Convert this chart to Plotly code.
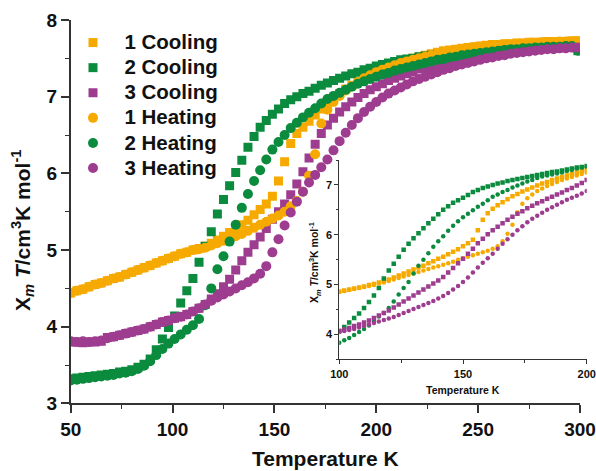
import plotly.graph_objects as go

# ---------------- main plot data ----------------
T_main = [50, 53, 56, 59, 62, 65, 68, 71, 74, 77, 80, 83, 86, 89, 92, 95, 98, 101, 104, 107,
          110, 113, 116, 119, 122, 125, 128, 131, 134, 137, 140, 143, 146, 149, 152, 155, 158, 161, 164, 167,
          170, 173, 176, 179, 182, 185, 188, 191, 194, 197, 200, 203, 206, 209, 212, 215, 218, 221, 224, 227,
          230, 233, 236, 239, 242, 245, 248, 251, 254, 257, 260, 263, 266, 269, 272, 275, 278, 281, 284, 287,
          290, 293, 296, 299]

cool_1 = [4.44, 4.47, 4.49, 4.52, 4.55, 4.57, 4.60, 4.63, 4.65, 4.68, 4.71, 4.74, 4.77, 4.80, 4.83, 4.86, 4.89, 4.92, 4.95, 4.97,
          5.00, 5.02, 5.05, 5.09, 5.13, 5.18, 5.23, 5.28, 5.33, 5.39, 5.46, 5.53, 5.60, 5.70, 5.90, 6.15, 6.39, 6.52, 6.60, 6.68,
          6.76, 6.84, 6.91, 6.98, 7.04, 7.10, 7.15, 7.20, 7.25, 7.29, 7.33, 7.37, 7.40, 7.43, 7.46, 7.48, 7.50, 7.52, 7.54, 7.56,
          7.58, 7.60, 7.61, 7.62, 7.63, 7.64, 7.65, 7.66, 7.67, 7.68, 7.68, 7.69, 7.69, 7.70, 7.70, 7.71, 7.71, 7.71, 7.72, 7.72,
          7.72, 7.72, 7.73, 7.73]
heat_1 = [4.44, 4.47, 4.49, 4.52, 4.55, 4.57, 4.60, 4.63, 4.65, 4.68, 4.71, 4.74, 4.77, 4.80, 4.83, 4.86, 4.89, 4.92, 4.95, 4.97,
          5.00, 5.01, 5.03, 5.06, 5.09, 5.12, 5.15, 5.18, 5.21, 5.25, 5.29, 5.33, 5.37, 5.41, 5.45, 5.50, 5.57, 5.64, 5.76, 5.97,
          6.25, 6.65, 6.83, 6.93, 7.01, 7.08, 7.14, 7.19, 7.24, 7.28, 7.32, 7.35, 7.38, 7.41, 7.44, 7.46, 7.48, 7.50, 7.52, 7.54,
          7.56, 7.58, 7.59, 7.60, 7.62, 7.63, 7.64, 7.65, 7.66, 7.66, 7.67, 7.68, 7.68, 7.69, 7.69, 7.70, 7.70, 7.71, 7.71, 7.71,
          7.72, 7.72, 7.72, 7.72]
cool_2 = [3.32, 3.33, 3.34, 3.35, 3.36, 3.37, 3.38, 3.39, 3.41, 3.42, 3.44, 3.47, 3.51, 3.58, 3.70, 3.84, 3.99, 4.14, 4.31, 4.47,
          4.63, 4.84, 5.05, 5.24, 5.47, 5.66, 5.84, 6.01, 6.17, 6.34, 6.48, 6.60, 6.69, 6.77, 6.84, 6.91, 6.96, 7.00, 7.04, 7.07,
          7.11, 7.15, 7.18, 7.21, 7.24, 7.27, 7.30, 7.32, 7.35, 7.37, 7.40, 7.42, 7.44, 7.46, 7.48, 7.49, 7.50, 7.52, 7.53, 7.54,
          7.55, 7.56, 7.57, 7.58, 7.59, 7.60, 7.61, 7.62, 7.63, 7.63, 7.64, 7.65, 7.65, 7.66, 7.66, 7.67, 7.67, 7.67, 7.68, 7.68,
          7.68, 7.68, 7.68, 7.60]
heat_2 = [3.30, 3.31, 3.32, 3.33, 3.34, 3.35, 3.36, 3.37, 3.39, 3.40, 3.42, 3.45, 3.49, 3.55, 3.63, 3.71, 3.78, 3.84, 3.90, 3.96,
          4.02, 4.10, 4.28, 4.50, 4.75, 4.92, 5.11, 5.33, 5.55, 5.73, 5.90, 6.04, 6.18, 6.31, 6.41, 6.50, 6.59, 6.66, 6.73, 6.79,
          6.85, 6.91, 6.97, 7.01, 7.05, 7.09, 7.13, 7.17, 7.20, 7.23, 7.26, 7.29, 7.31, 7.34, 7.36, 7.38, 7.40, 7.42, 7.44, 7.46,
          7.48, 7.49, 7.51, 7.52, 7.54, 7.55, 7.56, 7.57, 7.58, 7.59, 7.60, 7.61, 7.62, 7.62, 7.63, 7.63, 7.64, 7.64, 7.65, 7.65,
          7.65, 7.66, 7.66, 7.60]
cool_3 = [3.80, 3.80, 3.79, 3.80, 3.80, 3.81, 3.86, 3.87, 3.89, 3.91, 3.93, 3.95, 3.97, 4.00, 4.03, 4.06, 4.08, 4.11, 4.13, 4.16,
          4.20, 4.24, 4.29, 4.36, 4.43, 4.52, 4.62, 4.74, 4.86, 4.97, 5.07, 5.17, 5.28, 5.40, 5.50, 5.60, 5.72, 5.86, 6.02, 6.20,
          6.38, 6.52, 6.63, 6.72, 6.80, 6.87, 6.93, 6.99, 7.04, 7.09, 7.13, 7.17, 7.21, 7.24, 7.27, 7.30, 7.33, 7.36, 7.38, 7.40,
          7.42, 7.44, 7.46, 7.48, 7.50, 7.51, 7.53, 7.54, 7.56, 7.57, 7.58, 7.59, 7.60, 7.61, 7.62, 7.62, 7.63, 7.63, 7.64, 7.64,
          7.65, 7.65, 7.65, 7.66]
heat_3 = [3.81, 3.80, 3.81, 3.80, 3.81, 3.82, 3.85, 3.87, 3.89, 3.91, 3.93, 3.95, 3.97, 4.00, 4.03, 4.06, 4.08, 4.11, 4.13, 4.16,
          4.20, 4.24, 4.29, 4.34, 4.38, 4.42, 4.46, 4.50, 4.54, 4.58, 4.63, 4.69, 4.79, 4.97, 5.14, 5.32, 5.49, 5.63, 5.76, 5.88,
          5.98, 6.08, 6.18, 6.30, 6.42, 6.53, 6.63, 6.72, 6.80, 6.87, 6.93, 6.99, 7.04, 7.08, 7.12, 7.16, 7.20, 7.23, 7.26, 7.29,
          7.32, 7.35, 7.37, 7.40, 7.42, 7.44, 7.46, 7.48, 7.50, 7.51, 7.53, 7.54, 7.56, 7.57, 7.58, 7.59, 7.60, 7.61, 7.62, 7.62,
          7.63, 7.63, 7.64, 7.64]

# ---------------- inset data ----------------
T_inset = [100, 102, 104, 106, 108, 110, 112, 114, 116, 118, 120, 122, 124, 126, 128, 130, 132, 134, 136, 138,
           140, 142, 144, 146, 148, 150, 152, 154, 156, 158, 160, 162, 164, 166, 168, 170, 172, 174, 176, 178,
           180, 182, 184, 186, 188, 190, 192, 194, 196, 198, 200]

in_cool_1 = [4.86, 4.88, 4.90, 4.92, 4.94, 4.96, 4.99, 5.01, 5.04, 5.07, 5.10, 5.14, 5.18, 5.22, 5.26, 5.30, 5.34, 5.38, 5.43, 5.47,
             5.52, 5.56, 5.61, 5.66, 5.71, 5.77, 5.83, 5.90, 6.09, 6.30, 6.43, 6.52, 6.59, 6.65, 6.71, 6.77, 6.82, 6.87, 6.91, 6.95,
             6.99, 7.03, 7.06, 7.10, 7.13, 7.16, 7.19, 7.22, 7.25, 7.28, 7.31]
in_heat_1 = [4.85, 4.87, 4.89, 4.91, 4.93, 4.95, 4.97, 4.99, 5.02, 5.04, 5.07, 5.10, 5.13, 5.16, 5.19, 5.22, 5.25, 5.28, 5.31, 5.34,
             5.37, 5.40, 5.43, 5.46, 5.50, 5.53, 5.56, 5.59, 5.62, 5.65, 5.68, 5.72, 5.77, 5.87, 6.02, 6.20, 6.45, 6.62, 6.73, 6.81,
             6.88, 6.93, 6.98, 7.02, 7.06, 7.10, 7.13, 7.16, 7.19, 7.22, 7.25]
in_cool_2 = [4.07, 4.15, 4.24, 4.33, 4.42, 4.53, 4.65, 4.78, 4.93, 5.12, 5.28, 5.42, 5.56, 5.70, 5.82, 5.93, 6.03, 6.13, 6.23, 6.32,
             6.41, 6.50, 6.57, 6.64, 6.69, 6.74, 6.80, 6.86, 6.90, 6.94, 6.97, 7.00, 7.03, 7.05, 7.08, 7.10, 7.12, 7.14, 7.16, 7.18,
             7.20, 7.22, 7.24, 7.26, 7.27, 7.29, 7.31, 7.33, 7.35, 7.36, 7.38]
in_heat_2 = [3.83, 3.88, 3.93, 3.99, 4.05, 4.11, 4.18, 4.27, 4.36, 4.43, 4.53, 4.66, 4.80, 4.93, 5.05, 5.22, 5.38, 5.50, 5.63, 5.76,
             5.87, 5.97, 6.08, 6.18, 6.27, 6.35, 6.42, 6.49, 6.56, 6.62, 6.69, 6.76, 6.81, 6.86, 6.90, 6.95, 6.99, 7.03, 7.07, 7.10,
             7.14, 7.17, 7.19, 7.21, 7.23, 7.25, 7.28, 7.30, 7.33, 7.35, 7.37]
in_cool_3 = [4.07, 4.10, 4.13, 4.17, 4.20, 4.24, 4.28, 4.33, 4.38, 4.43, 4.48, 4.54, 4.60, 4.66, 4.72, 4.78, 4.84, 4.90, 4.96, 5.02,
             5.08, 5.15, 5.24, 5.33, 5.43, 5.52, 5.62, 5.72, 5.83, 5.92, 6.01, 6.09, 6.16, 6.23, 6.30, 6.36, 6.42, 6.47, 6.53, 6.58,
             6.63, 6.67, 6.72, 6.76, 6.81, 6.85, 6.90, 6.94, 6.99, 7.04, 7.10]
in_heat_3 = [4.05, 4.07, 4.09, 4.11, 4.14, 4.17, 4.20, 4.23, 4.26, 4.29, 4.32, 4.35, 4.39, 4.43, 4.47, 4.51, 4.55, 4.59, 4.63, 4.67,
             4.72, 4.77, 4.83, 4.90, 4.97, 5.05, 5.14, 5.24, 5.34, 5.44, 5.53, 5.62, 5.72, 5.82, 5.91, 6.00, 6.09, 6.17, 6.25, 6.32,
             6.38, 6.44, 6.50, 6.55, 6.60, 6.65, 6.70, 6.74, 6.78, 6.83, 6.88]

ORANGE = "#F6AA00"
GREEN = "#0A8B3D"
PURPLE = "#9E3C8F"
FONT = "Liberation Sans"


def leg(name):
    return '<span style="font-size:20.5px">\u00a0\u00a0' + name + '</span>'


fig = go.Figure()

main_series = [
    ("1 Cooling", cool_1, ORANGE, "square", 9),
    ("2 Cooling", cool_2, GREEN, "square", 9),
    ("3 Cooling", cool_3, PURPLE, "square", 9),
    ("1 Heating", heat_1, ORANGE, "circle", 10),
    ("2 Heating", heat_2, GREEN, "circle", 10),
    ("3 Heating", heat_3, PURPLE, "circle", 10),
]
for name, ys, col, sym, sz in main_series:
    fig.add_trace(go.Scatter(x=T_main, y=ys, mode="markers", name=leg(name),
                             marker=dict(color=col, symbol=sym, size=sz, line=dict(width=0)),
                             xaxis="x", yaxis="y"))

inset_series = [
    (in_cool_1, ORANGE, "square"), (in_heat_1, ORANGE, "circle"),
    (in_cool_2, GREEN, "square"), (in_heat_2, GREEN, "circle"),
    (in_cool_3, PURPLE, "square"), (in_heat_3, PURPLE, "circle"),
]
for ys, col, sym in inset_series:
    fig.add_trace(go.Scatter(x=T_inset, y=ys, mode="markers", showlegend=False,
                             marker=dict(color=col, symbol=sym, size=4.5, line=dict(width=0)),
                             xaxis="x2", yaxis="y2"))

W, H = 596, 471
AX = "#333333"

def px_x(p):
    return p / W

def px_y(p):
    return 1 - p / H

axis_common = dict(showgrid=False, zeroline=False, showline=True, linecolor=AX,
                   ticks="outside", tickcolor=AX, mirror=False, automargin=False)

fig.update_layout(
    template="none",
    width=W, height=H,
    margin=dict(l=0, r=0, t=0, b=0, autoexpand=False),
    paper_bgcolor="white", plot_bgcolor="rgba(0,0,0,0)",
    font=dict(family=FONT, color="black"),
    showlegend=True,
    legend=dict(x=px_x(73), y=px_y(25), xanchor="left", yanchor="top",
                bgcolor="rgba(0,0,0,0)", borderwidth=0,
                font=dict(family=FONT, size=17, color="#111111", weight="bold")),
    xaxis=dict(domain=[px_x(70.7), px_x(580)], range=[50, 300], tick0=50, dtick=50,
               ticklen=8, tickwidth=1.5, linewidth=1.5, anchor="y",
               tickfont=dict(family=FONT, size=19, color="#111111", weight="bold"),
               minor=dict(dtick=25, ticklen=4, tickwidth=1.2, tickcolor=AX, ticks="outside"),
               **axis_common),
    yaxis=dict(domain=[px_y(403.4), px_y(20)], range=[3, 8], tick0=3, dtick=1,
               ticklen=8, tickwidth=1.5, linewidth=1.5, anchor="x",
               tickfont=dict(family=FONT, size=19, color="#111111", weight="bold"),
               minor=dict(dtick=0.5, ticklen=4, tickwidth=1.2, tickcolor=AX, ticks="outside"),
               **axis_common),
    xaxis2=dict(domain=[px_x(339.3), px_x(586.7)], range=[100, 200], tick0=100, dtick=50,
                ticklen=4, tickwidth=1, linewidth=1, anchor="y2",
                tickfont=dict(family=FONT, size=11, color="#111111", weight="bold"),
                minor=dict(dtick=25, ticklen=2.5, tickwidth=1, tickcolor=AX, ticks="outside"),
                **axis_common),
    yaxis2=dict(domain=[px_y(359.3), px_y(160)], range=[3.5, 7.5], tick0=4, dtick=1,
                ticklen=4, tickwidth=1, linewidth=1, anchor="x2",
                tickfont=dict(family=FONT, size=11, color="#111111", weight="bold"),
                minor=dict(dtick=0.5, ticklen=2.5, tickwidth=1, tickcolor=AX, ticks="outside"),
                **axis_common),
)

ytitle = "X<sub><i>m</i></sub> <i>T</i>/cm<sup>3</sup>K mol<sup>-1</sup>"
annots = [
    dict(text="Temperature K", x=px_x(325), y=px_y(458), size=21, angle=0),
    dict(text=ytitle, x=px_x(22), y=px_y(230), size=21, angle=-90),
    dict(text="Temperature K", x=px_x(463), y=px_y(390), size=10.5, angle=0),
    dict(text=ytitle, x=px_x(315), y=px_y(263), size=10.5, angle=-90),
]
for a in annots:
    fig.add_annotation(text=a["text"], x=a["x"], y=a["y"], xref="paper", yref="paper",
                       showarrow=False, xanchor="center", yanchor="middle", textangle=a["angle"],
                       font=dict(family=FONT, size=a["size"], color="#111111", weight="bold"))

# remove the browser's default 8 px body margin so the figure fills the window exactly
fig.write_html("out.html", config={"displayModeBar": False},
               post_script="document.body.style.margin='0';document.body.style.overflow='hidden';")
